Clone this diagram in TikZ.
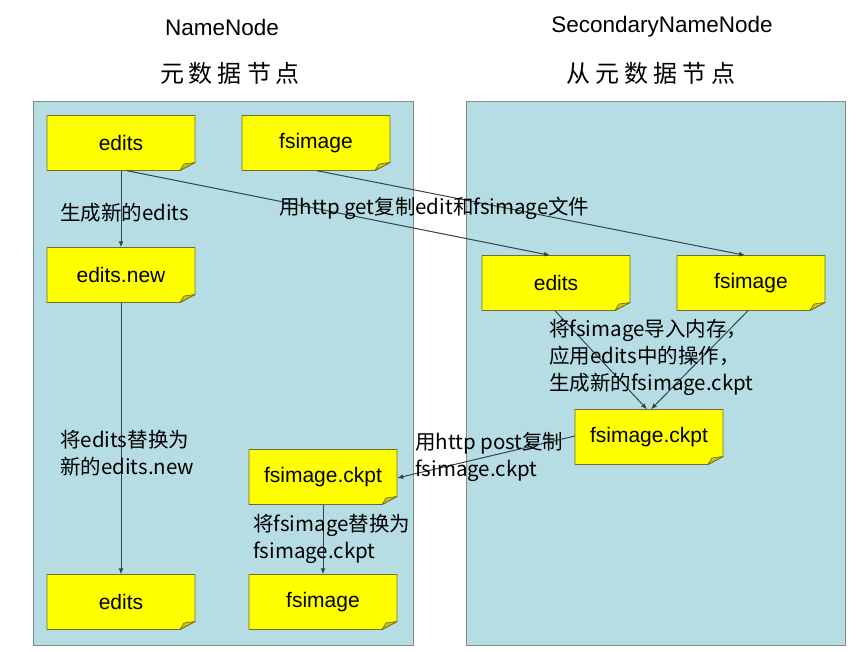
\documentclass[tikz,border=0pt]{standalone}
\usepackage{fontspec}
\setmainfont{Liberation Sans}
\newfontfamily\cjk{Noto Sans CJK SC}
\usetikzlibrary{arrows.meta,calc}
\definecolor{panelfill}{HTML}{B7DDE4}
\definecolor{panelline}{HTML}{7F8C8D}
\definecolor{noteyellow}{HTML}{FFFF00}
\definecolor{notefold}{HTML}{D2C600}
\definecolor{noteline}{HTML}{6E6E2C}
\definecolor{arrowline}{HTML}{34444F}
\newcommand\tg{\hspace{5pt}}
\newcommand\notebox[3]{%
  \coordinate (#1c) at (#2);
  \draw[notedraw] ([shift={(-74,-27.5)}]#1c) -- ++(148,0) -- ++(0,47) -- ++(-15,8) -- ++(-133,0) -- cycle;
  \draw[foldstyle] ([shift={(74,19.5)}]#1c) -- ++(-11,1.5) -- ++(-4,6.5) -- cycle;
  \node[notetext] (#1) at (#1c) {#3};
}
\tikzset{
  panel/.style={fill=panelfill,draw=panelline,line width=0.8pt},
  notedraw/.style={fill=noteyellow,draw=noteline,line width=0.9pt,line join=round},
  foldstyle/.style={fill=notefold,draw=noteline,line width=0.7pt,line join=round},
  notetext/.style={minimum width=148pt,minimum height=55pt,inner sep=0pt,font=\fontsize{21}{24}\selectfont},
  conn/.style={draw=arrowline,line width=1pt,-{Latex[length=6pt,width=5pt]}},
  lbl/.style={inner sep=0pt,anchor=west,align=left,font=\cjk\fontsize{20.5}{27}\selectfont},
  title/.style={inner sep=0pt,font=\fontsize{22.5}{26}\selectfont},
  ctitle/.style={inner sep=0pt,font=\cjk\fontsize{24}{28}\selectfont},
}
\begin{document}
\begin{tikzpicture}[x=1pt,y=-1pt]
\useasboundingbox (0,0) rectangle (861,652);
% panels
\draw[panel] (33,101) rectangle (413,645);
\draw[panel] (466,101) rectangle (845,645);
% titles
\node[title] (t1) at (222,27) {NameNode};
\node[ctitle] (c1) at (230,73) {元\tg 数\tg 据\tg 节\tg 点};
\node[title] (t2) at (662,27) {SecondaryNameNode};
\node[ctitle] (c2) at (651,73) {从\tg 元\tg 数\tg 据\tg 节\tg 点};
% notes
\notebox{e1}{121,143}{edits}
\notebox{f1}{316,143}{fsimage}
\notebox{en}{121,275}{edits.new}
\notebox{e2}{121,602}{edits}
\notebox{ck1}{323,477}{fsimage.ckpt}
\notebox{f2}{323,602}{fsimage}
\notebox{eR}{556,283}{edits}
\notebox{fR}{751,283}{fsimage}
\notebox{ckR}{649,437}{fsimage.ckpt}
% connectors
\draw[conn] (e1.south) -- (en.north);
\draw[conn] ([xshift=6pt]e1.south) -- ([xshift=-6pt]eR.north);
\draw[conn] ([xshift=1pt]f1.south) -- ([xshift=-6pt]fR.north);
\draw[conn] (en.south) -- (e2.north);
\draw[conn] ([xshift=-1pt]eR.south) -- ([xshift=-2pt]ckR.north);
\draw[conn] ([xshift=-3pt]fR.south) -- ([xshift=2pt]ckR.north);
\draw[conn] ([yshift=1pt]ckR.west) -- ([yshift=-1pt]ck1.east);
\draw[conn] (ck1.south) -- (f2.north);
% labels
\node[lbl] (l1) at (60,213) {生成新的edits};
\node[lbl] (l2) at (279,208) {用http get复制edit和fsimage文件};
\node[lbl] (l3) at (60,453.5) {将edits替换为\\新的edits.new};
\node[lbl] (l4) at (549,357) {将fsimage导入内存，\\应用edits中的操作，\\生成新的fsimage.ckpt};
\node[lbl] (l5) at (415,457) {用http post复制\\fsimage.ckpt};
\node[lbl] (l6) at (253,538.5) {将fsimage替换为\\fsimage.ckpt};
\end{tikzpicture}
\end{document}
